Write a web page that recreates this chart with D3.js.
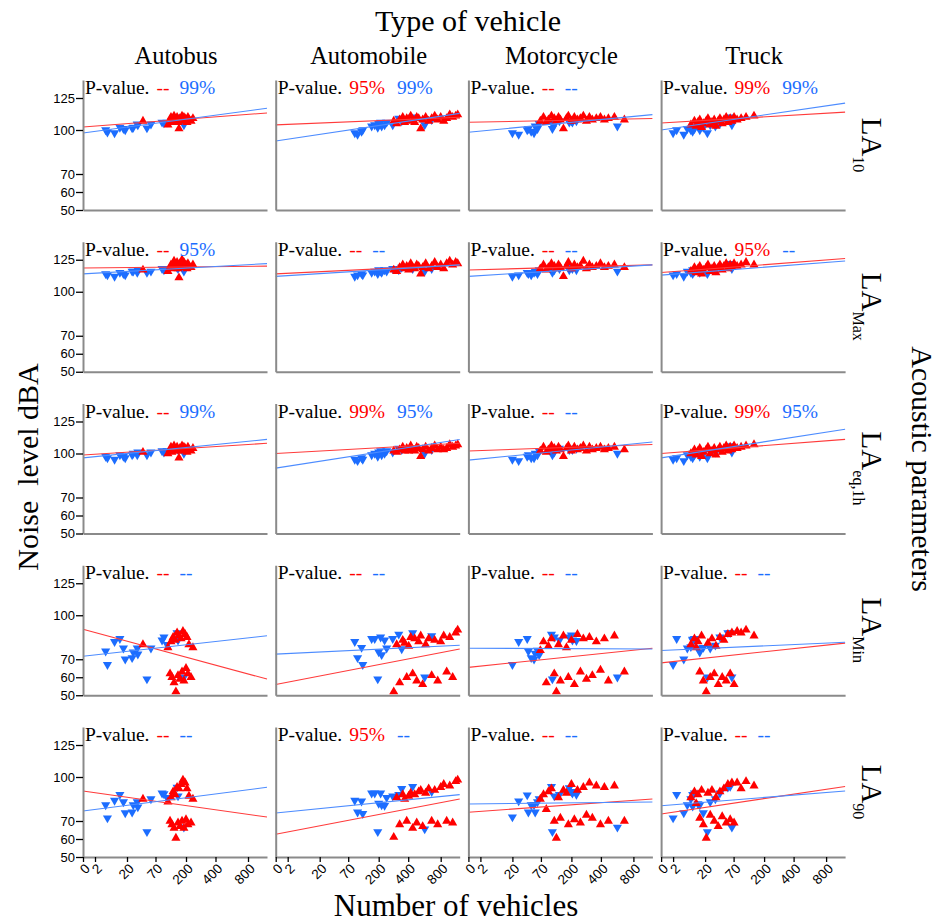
<!DOCTYPE html>
<html>
<head>
<meta charset="utf-8">
<script src="https://cdn.jsdelivr.net/npm/d3@7"></script>
<style>
  body { margin: 0; background: #fff; }
</style>
</head>
<body>
<div id="chart"></div>
<script>
// Categories and labels
var vehicles = ["Autobus", "Automobile", "Motorcycle", "Truck"];
var paramSubs = ["10", "Max", "eq,1h", "Min", "90"];
var xTicks = [0, 2, 20, 70, 200, 400, 800];
var yTicks = [50, 60, 70, 100, 125];

// Number of vehicles for each sample (one list per vehicle type)
var redX = [
  [48, 123, 132, 136, 140, 145, 149, 153, 157, 162, 166, 170, 174, 179, 183, 187, 191, 196, 200, 207, 213, 220, 234, 247],
  [302, 322, 342, 363, 376, 390, 406, 431, 455, 480, 505, 529, 554, 578, 615, 652, 689, 726, 763, 800, 832, 863, 895, 926, 958, 979],
  [69, 81, 93, 102, 115, 127, 136, 145, 153, 166, 179, 187, 200, 220, 241, 261, 281, 302, 322, 342, 369, 397, 443, 492, 566, 689],
  [12, 14, 15, 16, 17, 18, 19, 22, 25, 29, 32, 36, 39, 43, 46, 50, 53, 57, 60, 64, 67, 72, 85, 102, 123, 157]
];
var blueX = [
  [8, 9, 13, 16, 18, 19, 29, 31, 38, 39, 55, 62, 98, 106, 119, 162, 166, 191],
  [98, 110, 127, 132, 170, 183, 196, 200, 213, 220, 240, 254, 295, 336, 356, 455, 603, 689],
  [20, 31, 46, 48, 53, 58, 60, 64, 67, 115, 119, 127, 149, 191, 200, 207, 234, 603],
  [2, 4, 8, 10, 12, 13, 13, 14, 16, 17, 19, 24, 29, 38, 46, 60, 64, 67]
];

// Noise levels (dBA) per acoustic parameter, one list per vehicle type
var la10Red = [
  [107, 104, 108, 110, 106, 109, 111, 107, 108, 110, 106, 101, 109, 108, 111, 107, 110, 109, 108, 106, 110, 108, 107, 109],
  [107, 105, 108, 110, 106, 109, 107, 111, 108, 106, 110, 109, 101, 108, 110, 107, 109, 111, 108, 110, 107, 109, 112, 110, 111, 112],
  [107, 110, 106, 108, 111, 109, 107, 110, 108, 101, 109, 111, 107, 110, 108, 109, 111, 107, 110, 108, 109, 110, 108, 109, 110, 108],
  [104, 107, 103, 106, 108, 102, 105, 107, 109, 104, 106, 108, 103, 107, 109, 105, 108, 110, 106, 109, 107, 110, 108, 109, 110, 111]
];
var la10Blue = [
  [100, 98.5, 98, 102, 101, 100, 101.5, 102, 104.5, 104, 101.5, 104.5, 106, 105.5, 106, 110, 108, 104],
  [98, 97, 99, 100, 103, 104, 102, 105, 106, 103, 104, 106, 104, 109, 107, 110, 104, 108],
  [98, 97, 100, 101, 99, 98, 103, 101, 105, 106, 101, 104, 107, 106, 107, 106, 107, 103],
  [98, 100, 97, 101, 100, 99, 102, 101, 103, 100, 102, 98, 104, 103, 105, 108, 110, 104]
];
var laMaxRed = [
  [117, 116, 119, 121, 118, 122, 124, 119, 120, 123, 118, 111, 122, 121, 125, 119, 123, 120, 121, 118, 122, 120, 119, 121],
  [117, 116, 119, 121, 118, 120, 117, 122, 119, 118, 121, 120, 114, 119, 122, 118, 120, 123, 119, 121, 118, 122, 124, 121, 123, 122],
  [118, 121, 117, 119, 122, 120, 118, 121, 119, 112, 120, 123, 118, 121, 119, 120, 124, 118, 121, 119, 120, 122, 119, 120, 121, 119],
  [116, 119, 115, 118, 120, 114, 117, 119, 121, 116, 118, 120, 115, 119, 121, 117, 120, 122, 118, 121, 119, 122, 120, 121, 123, 121]
];
var laMaxBlue = [
  [114, 113, 112, 115, 114, 113, 116, 116, 115, 117, 115, 116, 118, 117, 118, 119, 118, 116],
  [112, 113, 114, 113, 115, 116, 114, 117, 116, 115, 117, 116, 118, 117, 119, 118, 116, 118],
  [112, 113, 115, 114, 113, 115, 116, 114, 117, 118, 115, 117, 118, 117, 119, 118, 117, 116],
  [113, 114, 112, 116, 115, 114, 117, 116, 118, 115, 117, 114, 118, 117, 119, 121, 122, 118]
];
var laEqRed = [
  [101, 100, 103, 105, 101, 104, 106, 102, 103, 105, 102, 97, 104, 103, 106, 102, 105, 104, 103, 101, 105, 103, 102, 104],
  [102, 101, 103, 105, 102, 104, 102, 106, 103, 102, 105, 104, 98, 103, 105, 102, 104, 106, 103, 105, 103, 104, 107, 105, 106, 107],
  [102, 105, 101, 103, 106, 104, 102, 105, 103, 98, 104, 106, 102, 105, 103, 104, 106, 102, 105, 103, 104, 105, 103, 104, 105, 103],
  [100, 103, 99, 102, 104, 98, 101, 103, 105, 100, 102, 104, 99, 103, 105, 101, 104, 106, 102, 105, 103, 106, 104, 105, 106, 107]
];
var laEqBlue = [
  [98, 97, 96, 99, 98, 97, 99, 100, 99, 101, 99, 101, 102, 101, 102, 104, 103, 100],
  [96, 95, 97, 96, 99, 100, 98, 101, 102, 99, 100, 102, 101, 104, 103, 104, 100, 103],
  [96, 95, 98, 99, 97, 97, 100, 99, 102, 103, 99, 101, 104, 103, 104, 103, 104, 100],
  [96, 97, 95, 99, 98, 97, 100, 99, 101, 98, 100, 97, 102, 101, 103, 105, 106, 101]
];
var laMinRed = [
  [80, 78, 62, 82, 60, 85, 57, 83, 52, 88, 61, 86, 59, 84, 63, 89, 58, 87, 65, 85, 62, 80, 60, 78],
  [52, 80, 57, 83, 81, 60, 79, 85, 62, 84, 58, 82, 86, 56, 80, 84, 61, 83, 58, 82, 86, 63, 85, 60, 88, 90],
  [76, 82, 57, 79, 84, 62, 52, 80, 58, 86, 78, 60, 83, 56, 87, 63, 84, 59, 85, 61, 82, 64, 84, 58, 86, 63],
  [80, 84, 78, 82, 63, 86, 58, 52, 81, 60, 84, 62, 79, 56, 85, 60, 83, 58, 87, 62, 88, 56, 89, 88, 90, 86]
];
var laMinBlue = [
  [75.5, 67, 82, 84, 77.5, 70, 71, 74.8, 77.5, 73.5, 59, 77.5, 83, 85, 80, 88, 83, 60],
  [82, 71, 78, 67, 84, 84, 59, 75, 85, 73, 83, 77.5, 84, 87, 77, 88, 60, 86],
  [67, 82, 84, 75.5, 71, 70, 74, 76, 73, 87, 59, 85, 83, 85, 86.5, 83, 82.7, 60],
  [67, 84, 70, 77.5, 78.5, 83, 83.5, 84, 77.5, 74.8, 78, 60, 77.5, 79.5, 85, 88, 88, 60]
];
var la90Red = [
  [85, 83, 70, 86, 68, 90, 66, 88, 60.5, 93, 69, 92, 67, 95, 70, 98, 66, 96, 71, 92, 68, 87, 69, 85],
  [61, 86, 68, 88, 85, 70, 87, 89, 66, 88, 69, 90, 91, 67, 89, 92, 70, 91, 68, 93, 95, 70, 94, 69, 97, 98],
  [85, 88, 78, 90, 92, 70, 60.5, 86, 72, 91, 89, 68, 95, 71, 91, 69, 93, 74, 96, 72, 94, 68, 93, 70, 94, 70],
  [86, 90, 82, 88, 72, 91, 68, 60.5, 89, 74, 91, 70, 86, 67, 90, 73, 92, 69, 95, 71, 96, 69, 96, 92, 97, 94]
];
var la90Blue = [
  [81, 72, 84, 88, 83, 75.5, 76, 81, 83, 79.5, 64, 85, 89, 88.5, 86, 93, 87, 66.6],
  [84, 76, 83.5, 75, 89, 89, 64, 82, 89, 81, 80.5, 86, 87, 88, 92, 93.5, 65.5, 90],
  [72.7, 83.6, 87.7, 76, 81, 81, 76, 83, 85, 93.5, 64, 87, 88, 92.5, 90, 89, 88, 66.5],
  [72, 88, 75.5, 81, 85, 88, 80, 89, 81.6, 81, 75.5, 64, 83, 85, 89, 93, 93.5, 66.5]
];

// Fitted lines: level at 0 vehicles and at the right end (1000 vehicles)
var redLines = [
  [[102.3, 113.3], [104, 110], [106, 109], [105.5, 114]],
  [[118.5, 120], [114, 121], [117, 121], [115, 126]],
  [[99, 108], [100, 108], [102, 107], [100, 111]],
  [[90.5, 59], [56, 77], [65.5, 77.5], [68, 81]],
  [[90.5, 72.7], [62.6, 85], [76, 85], [74.8, 93.5]]
];
var blueLines = [
  [[98, 117], [92.5, 113], [98.5, 112], [100, 121]],
  [[114, 122], [112, 121], [112, 121], [113, 124]],
  [[97, 111], [90, 111], [95.5, 109], [97, 119]],
  [[72, 86], [73.5, 79.5], [77.5, 77], [76, 81.6]],
  [[76.8, 93], [75.5, 88], [81.6, 83], [80.4, 90.5]]
];

// P-value significance labels
var redSig = [
  ["--", "95%", "--", "99%"],
  ["--", "--", "--", "95%"],
  ["--", "99%", "--", "99%"],
  ["--", "--", "--", "--"],
  ["--", "95%", "--", "--"]
];
var blueSig = [
  ["99%", "99%", "--", "99%"],
  ["95%", "--", "--", "--"],
  ["99%", "95%", "--", "95%"],
  ["--", "--", "--", "--"],
  ["--", "--", "--", "--"]
];

var redRows = [la10Red, laMaxRed, laEqRed, laMinRed, la90Red];
var blueRows = [la10Blue, laMaxBlue, laEqBlue, laMinBlue, la90Blue];

// Layout
var svgWidth = 942;
var svgHeight = 922;
var panelW = 184;
var panelH = 130;
var left0 = 83, top0 = 80;
var stepX = 192.7, stepY = 161.75;

var serif = "'Liberation Serif', 'Times New Roman', serif";
var sans = "'Liberation Sans', Arial, sans-serif";
var red = "#ff0000", blue = "#1c6dff";

var svg = d3.select("#chart")
  .append("svg")
  .attr("width", svgWidth)
  .attr("height", svgHeight);

// Scales (the axes are stretched, not linear)
var xScale = d3.scaleLinear()
  .domain([0, 2, 20, 70, 200, 400, 800, 1000])
  .range([0, 12, 44, 72.5, 103, 132.5, 165, 184]);

var yScale = d3.scaleLinear()
  .domain([50, 60, 70, 100, 125, 140])
  .range([130, 112, 94, 50, 18, 0]);

var upTri = d3.symbol().type(d3.symbolTriangle).size(36);

paramSubs.forEach(function (sub, r) {
  vehicles.forEach(function (veh, c) {
    var g = svg.append("g")
      .attr("transform", `translate(${left0 + c * stepX}, ${top0 + r * stepY})`);

    // Points: blue down triangles first, red up triangles on top
    var blueData = blueX[c].map(function (x, i) { return { x: x, y: blueRows[r][c][i] }; });
    var redData = redX[c].map(function (x, i) { return { x: x, y: redRows[r][c][i] }; });

    g.selectAll("path.blue")
      .data(blueData)
      .enter()
      .append("path")
      .attr("class", "blue")
      .attr("d", upTri)
      .attr("fill", blue)
      .attr("transform", d => `translate(${xScale(d.x)}, ${yScale(d.y)}) rotate(180)`);

    g.selectAll("path.red")
      .data(redData)
      .enter()
      .append("path")
      .attr("class", "red")
      .attr("d", upTri)
      .attr("fill", red)
      .attr("transform", d => `translate(${xScale(d.x)}, ${yScale(d.y)})`);

    // Fitted lines
    [[redLines[r][c], "#ff3b3b"], [blueLines[r][c], "#4d8cff"]].forEach(function (ln) {
      g.append("line")
        .attr("x1", xScale(0))
        .attr("y1", yScale(ln[0][0]))
        .attr("x2", xScale(1000))
        .attr("y2", yScale(ln[0][1]))
        .attr("stroke", ln[1])
        .attr("stroke-width", 1.1);
    });

    // Axes
    var leftAxis = d3.axisLeft(yScale).tickSizeOuter(0).tickSizeInner(7).tickPadding(1)
      .tickValues(c === 0 ? yTicks : []);
    var yAxisG = g.append("g").call(leftAxis);
    yAxisG.select(".domain").attr("stroke", "#8a8a8a").attr("stroke-width", 2);
    yAxisG.selectAll(".tick line").attr("stroke", "#000").attr("stroke-width", 1.3);
    yAxisG.selectAll(".tick text")
      .attr("fill", "#000")
      .style("font-family", sans)
      .style("font-size", "13px");

    var bottomAxis = d3.axisBottom(xScale).tickSizeOuter(0).tickSizeInner(5)
      .tickValues(r === 4 ? xTicks : []);
    var xAxisG = g.append("g")
      .attr("transform", `translate(0, ${panelH})`)
      .call(bottomAxis);
    xAxisG.select(".domain").attr("stroke", "#8a8a8a").attr("stroke-width", 2);
    xAxisG.selectAll(".tick line").attr("stroke", "#000").attr("stroke-width", 1.3);
    xAxisG.selectAll(".tick text")
      .attr("fill", "#000")
      .attr("x", 0)
      .attr("y", 0)
      .attr("dy", "0.35em")
      .attr("text-anchor", "end")
      .attr("transform", "translate(4, 9) rotate(-45)")
      .style("font-family", sans)
      .style("font-size", "13.5px");

    // P-value annotation
    var pv = g.append("text")
      .attr("x", 2)
      .attr("y", 14)
      .style("font-family", serif)
      .style("font-size", "19.5px")
      .attr("fill", "#000")
      .text("P-value.");
    pv.append("tspan").attr("dx", 7).attr("fill", red).text(redSig[r][c]);
    pv.append("tspan").attr("dx", redSig[r][c] === "--" ? 10 : 12).attr("fill", blue).text(blueSig[r][c]);
  });

  // Row label (acoustic parameter), rotated
  var rl = svg.append("text")
    .attr("transform", `translate(862, ${top0 + r * stepY + panelH / 2}) rotate(90)`)
    .attr("text-anchor", "middle")
    .style("font-family", serif)
    .style("font-size", "29px")
    .text("LA");
  rl.append("tspan")
    .attr("baseline-shift", "sub")
    .style("font-size", "16px")
    .text(sub);
});

// Column titles
vehicles.forEach(function (veh, c) {
  svg.append("text")
    .attr("x", left0 + c * stepX + panelW / 2 + 1)
    .attr("y", 64)
    .attr("text-anchor", "middle")
    .style("font-family", serif)
    .style("font-size", "24.5px")
    .text(veh);
});

// Titles
svg.append("text")
  .attr("x", 468)
  .attr("y", 31)
  .attr("text-anchor", "middle")
  .style("font-family", serif)
  .style("font-size", "30px")
  .text("Type of vehicle");

svg.append("text")
  .attr("x", 456)
  .attr("y", 916)
  .attr("text-anchor", "middle")
  .style("font-family", serif)
  .style("font-size", "31px")
  .text("Number of vehicles");

svg.append("text")
  .attr("transform", "translate(38, 467) rotate(-90)")
  .attr("text-anchor", "middle")
  .style("font-family", serif)
  .style("font-size", "30px")
  .text("Noise\u00a0 level dBA");

svg.append("text")
  .attr("transform", "translate(912, 469) rotate(90)")
  .attr("text-anchor", "middle")
  .style("font-family", serif)
  .style("font-size", "30px")
  .text("Acoustic parameters");
</script>
</body>
</html>
